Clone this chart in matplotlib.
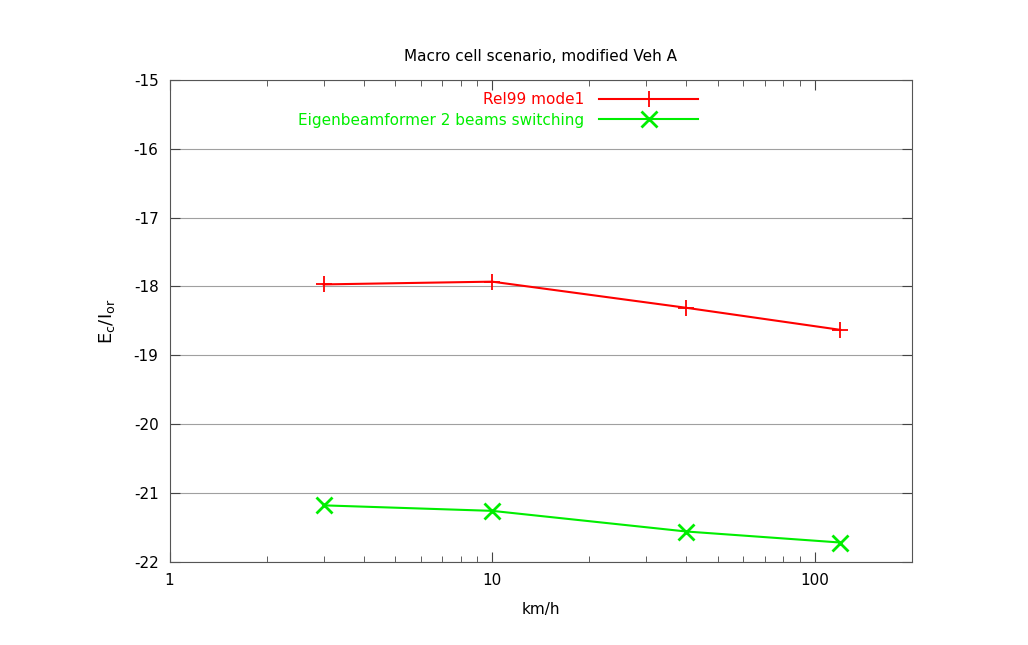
import numpy as np
import matplotlib.pyplot as plt
from matplotlib.ticker import FixedLocator, LogLocator, NullFormatter

speeds = [3, 10, 40, 120]
rel99 = [-17.97, -17.93, -18.31, -18.63]
eigen = [-21.18, -21.26, -21.56, -21.72]
xticks = [1, 10, 100]
xticklabels = ['1', '10', '100']
yticks = [-22, -21, -20, -19, -18, -17, -16, -15]

plt.rcParams['axes.unicode_minus'] = False

fig = plt.figure(figsize=(10.28, 6.45), dpi=100)
ax = fig.add_axes([0.165, 0.129, 0.722, 0.747])

ax.plot(speeds, rel99, color='#ff0000', lw=1.5, marker='+', ms=12, mew=1.3,
        label='Rel99 mode1')
ax.plot(speeds, eigen, color='#00ee00', lw=1.5, marker='x', ms=11, mew=2,
        label='Eigenbeamformer 2 beams switching')

ax.set_xscale('log')
ax.set_xlim(1, 200)
ax.set_ylim(-22, -15)
ax.xaxis.set_major_locator(FixedLocator(xticks))
ax.set_xticklabels(xticklabels)
ax.xaxis.set_minor_locator(LogLocator(base=10, subs=np.arange(2, 10)))
ax.xaxis.set_minor_formatter(NullFormatter())
ax.set_yticks(yticks)
ax.grid(axis='y', color='#a0a0a0', lw=0.8)

ax.tick_params(which='both', direction='in', top=True, right=True,
               labelsize=11, pad=8, color='#444444')
ax.tick_params(which='major', length=7)
ax.tick_params(which='minor', length=4)
for s in ax.spines.values():
    s.set_color('#555555')

ax.set_xlabel('km/h', fontsize=11, labelpad=10)
ax.set_ylabel('$\\mathregular{E_c/I_{or}}$', fontsize=13, labelpad=12)
ax.set_title('Macro cell scenario, modified Veh A', fontsize=11, pad=14)

leg = ax.legend(loc='upper right', bbox_to_anchor=(0.729, 1.0), frameon=False,
                markerfirst=False, fontsize=11, handlelength=6.5,
                handletextpad=1.0, labelspacing=0.35, borderpad=0.3)
for txt, col in zip(leg.get_texts(), ['#ff0000', '#00ee00']):
    txt.set_color(col)

fig.savefig('out.png', dpi=100)
